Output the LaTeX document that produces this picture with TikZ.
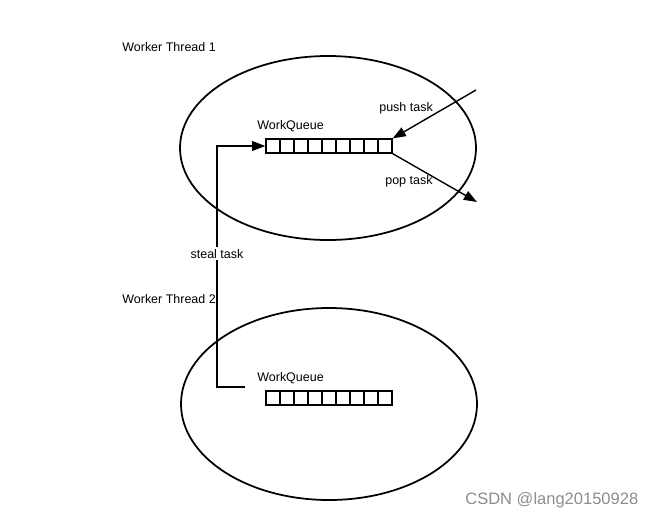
\documentclass[tikz,border=0pt]{standalone}
\usepackage{fontspec}
\setmainfont{Liberation Sans}
\usetikzlibrary{arrows.meta}

\tikzset{
	lbl/.style={anchor=base west, inner sep=0pt, font=\fontsize{7.1pt}{8.5pt}\selectfont},
	cell/.style={draw, line width=0.7pt, minimum width=0.28cm, minimum height=0.28cm, inner sep=0pt},
	thread/.style={draw, line width=1pt},
	arr/.style={line width=0.8pt, -{Triangle[length=7.5pt,width=5.5pt]}}
}

\begin{document}
\begin{tikzpicture}
		
		\useasboundingbox (0,0) rectangle (13.06,10.38);
		
		% worker threads
		\draw[thread] (6.56,7.42) ellipse [x radius=2.96, y radius=1.84];
		\draw[thread] (6.58,2.30) ellipse [x radius=2.96, y radius=1.92];
		
		\node[lbl] (t1) at (2.44,9.36) {Worker Thread 1};
		\node[lbl] (t2) at (2.44,4.32) {Worker Thread 2};
		
		% queues
		\foreach \i in {1,...,9} {
			\node[cell] (a\i) at (5.32+0.28*\i-0.14,7.46) {};
			\node[cell] (b\i) at (5.32+0.28*\i-0.14,2.42) {};
		}
		
		\node[lbl] (wq1) at (5.14,7.80) {WorkQueue};
		\node[lbl] (wq2) at (5.14,2.76) {WorkQueue};
		
		% push / pop
		\coordinate (in) at (9.52,8.58);
		\coordinate (out) at (9.54,6.34);
		\draw[arr] (in) -- (a9.north east);
		\draw[arr] (a9.south east) -- (out);
		
		\node[lbl] (push) at (7.58,8.16) {push task};
		\node[lbl] (pop) at (7.70,6.70) {pop task};
		
		% steal
		\coordinate (st) at (4.90,2.64);
		\draw[arr] (st) -- ++(-0.56,0) |- (a1.west);
		\node[lbl, anchor=base, fill=white, inner sep=1pt] (steal) at (4.34,5.22) {steal task};
		
		\node[lbl, font=\fontsize{9.4pt}{11pt}\selectfont, text=black!45] (wm) at (9.30,0.30) {CSDN @lang20150928};
		
	\end{tikzpicture}
\end{document}
